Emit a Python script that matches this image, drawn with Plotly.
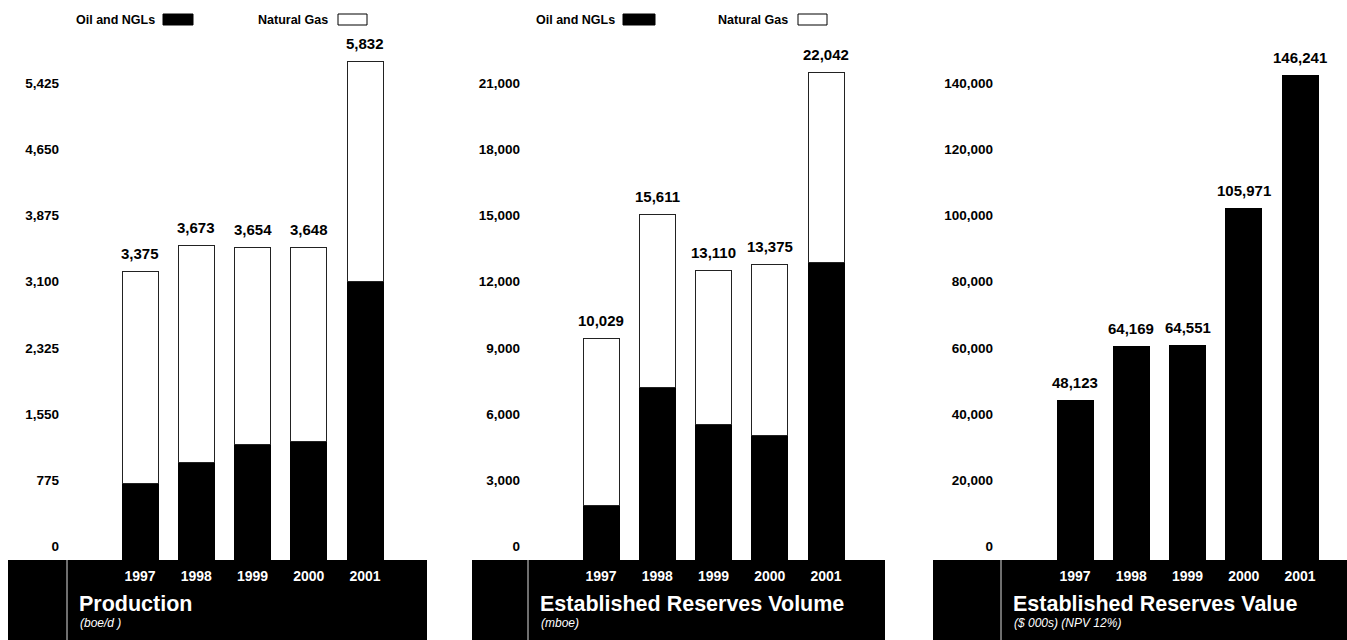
import plotly.graph_objects as go

# ---- data ----
years = ["1997", "1998", "1999", "2000", "2001"]

production_total = [3375, 3673, 3654, 3648, 5832]          # boe/d
production_oil = [890, 1130, 1350, 1380, 3250]              # Oil and NGLs share

volume_total = [10029, 15611, 13110, 13375, 22042]          # mboe
volume_oil = [2450, 7810, 6110, 5610, 13440]

value_total = [48123, 64169, 64551, 105971, 146241]         # $000s, NPV 12%

production_ticks = [0, 775, 1550, 2325, 3100, 3875, 4650, 5425]
volume_ticks = [0, 3000, 6000, 9000, 12000, 15000, 18000, 21000]
value_ticks = [0, 20000, 40000, 60000, 80000, 100000, 120000, 140000]

titles = ["Production", "Established Reserves Volume", "Established Reserves Value"]
subtitles = ["(boe/d )", "(mboe)", "($ 000s) (NPV 12%)"]

# ---- page geometry (pixels) ----
W, H = 1347, 640
PLOT_TOP, PLOT_BOTTOM = 40, 560
STEP_PX = 66.3          # pixels per tick interval
CAT_PX = 56.25          # pixels per year slot
BAR_W = 0.64

# (band left, divider, band right, first bar centre, plot right)
panels = [
    (8, 67, 427, 140, 427),
    (472, 528, 885, 601, 885),
    (933, 1001, 1347, 1075, 1340),
]

FONT = "Liberation Sans, Arial, sans-serif"


def px_x(v):
    return v / W


def px_y(v):
    return (H - v) / H


def fmt(v):
    return f"{v:,}"


fig = go.Figure()


def gas_part(total, oil):
    return [t - o for t, o in zip(total, oil)]


series = [
    (production_total, production_oil, production_ticks),
    (volume_total, volume_oil, volume_ticks),
    (value_total, None, value_ticks),
]

layout_axes = {}
shapes = []
annotations = []

for i, ((total, oil, ticks), (bl, div, br, c0, pr)) in enumerate(zip(series, panels)):
    n = "" if i == 0 else str(i + 1)
    xa, ya = "x" + n, "y" + n

    if oil is not None:
        fig.add_trace(go.Bar(
            x=years, y=oil, xaxis=xa, yaxis=ya, width=BAR_W,
            marker=dict(color="black", line=dict(color="black", width=1)),
            showlegend=False, hoverinfo="skip"))
        fig.add_trace(go.Bar(
            x=years, y=gas_part(total, oil), xaxis=xa, yaxis=ya, width=BAR_W,
            marker=dict(color="white", line=dict(color="#222", width=1)),
            showlegend=False, hoverinfo="skip"))
    else:
        fig.add_trace(go.Bar(
            x=years, y=total, xaxis=xa, yaxis=ya, width=BAR_W,
            marker=dict(color="black", line=dict(color="black", width=1)),
            showlegend=False, hoverinfo="skip"))

    # total value printed above each bar (category axes are indexed 0..n-1)
    for j, v in enumerate(total):
        annotations.append(dict(
            text=fmt(v), xref=xa, yref=ya, x=j, y=v, yshift=18,
            xanchor="center", yanchor="middle", showarrow=False,
            font=dict(family=FONT, size=15, color="black", weight="bold")))

    dl = div + 1
    r0 = -(c0 - dl) / CAT_PX
    r1 = r0 + (pr - dl) / CAT_PX
    dtick = ticks[1]
    ymax = dtick * (PLOT_BOTTOM - PLOT_TOP) / STEP_PX

    layout_axes["xaxis" + n] = dict(
        domain=[px_x(dl), px_x(pr)], range=[r0, r1], anchor=ya,
        type="category", showgrid=False, zeroline=False, showline=False,
        ticks="", tickfont=dict(family=FONT, size=14, color="white", weight="bold"),
        ticklabelstandoff=6, fixedrange=True)
    layout_axes["yaxis" + n] = dict(
        domain=[px_y(PLOT_BOTTOM), px_y(PLOT_TOP)], range=[-ymax * 0.001, ymax],
        anchor=xa, showgrid=False, zeroline=False, showline=False, ticks="",
        tickvals=ticks, ticktext=[fmt(t) for t in ticks],
        tickfont=dict(family=FONT, size=13.5, color="black", weight="bold"),
        ticklabelstandoff=8, ticklabelshift=-13, fixedrange=True)

    # dark caption band under each chart
    shapes.append(dict(type="rect", xref="paper", yref="paper", layer="below",
                       x0=px_x(bl), x1=px_x(br), y0=0, y1=px_y(PLOT_BOTTOM),
                       fillcolor="black", line=dict(width=0)))
    shapes.append(dict(type="line", xref="paper", yref="paper", layer="below",
                       x0=px_x(div), x1=px_x(div), y0=0, y1=px_y(PLOT_BOTTOM),
                       line=dict(color="#dddddd", width=1)))

    annotations.append(dict(
        text=f"<b>{titles[i]}</b>", xref="paper", yref="paper",
        x=px_x(div + 10), y=px_y(604), xanchor="left", yanchor="middle",
        showarrow=False, font=dict(family=FONT, size=21.5, color="white")))
    annotations.append(dict(
        text=f"<i>{subtitles[i]}</i>", xref="paper", yref="paper",
        x=px_x(div + 11), y=px_y(623), xanchor="left", yanchor="middle",
        showarrow=False, font=dict(family=FONT, size=12, color="white")))

# key for the stacked charts: label followed by a swatch
legend_rows = [
    (157, 163, 193, 330, 338, 367),
    (617, 623, 655, 790, 798, 827),
]
for (oil_txt, oil_x0, oil_x1, gas_txt, gas_x0, gas_x1) in legend_rows:
    annotations.append(dict(
        text="Oil and NGLs", xref="paper", yref="paper", x=px_x(oil_txt), y=px_y(19.5),
        xanchor="right", yanchor="middle", showarrow=False,
        font=dict(family=FONT, size=12.5, color="black", weight="bold")))
    annotations.append(dict(
        text="Natural Gas", xref="paper", yref="paper", x=px_x(gas_txt), y=px_y(19.5),
        xanchor="right", yanchor="middle", showarrow=False,
        font=dict(family=FONT, size=12.5, color="black", weight="bold")))
    shapes.append(dict(type="rect", xref="paper", yref="paper",
                       x0=px_x(oil_x0), x1=px_x(oil_x1), y0=px_y(25), y1=px_y(14),
                       fillcolor="black", line=dict(color="black", width=1)))
    shapes.append(dict(type="rect", xref="paper", yref="paper",
                       x0=px_x(gas_x0), x1=px_x(gas_x1), y0=px_y(25), y1=px_y(14),
                       fillcolor="white", line=dict(color="black", width=1)))

fig.update_layout(
    width=W, height=H, autosize=False, margin=dict(l=0, r=0, t=0, b=0),
    paper_bgcolor="white", plot_bgcolor="white",
    barmode="stack", showlegend=False,
    shapes=shapes, annotations=annotations,
    **layout_axes)

fig.write_html("out.html", config={"displayModeBar": False, "responsive": False})
